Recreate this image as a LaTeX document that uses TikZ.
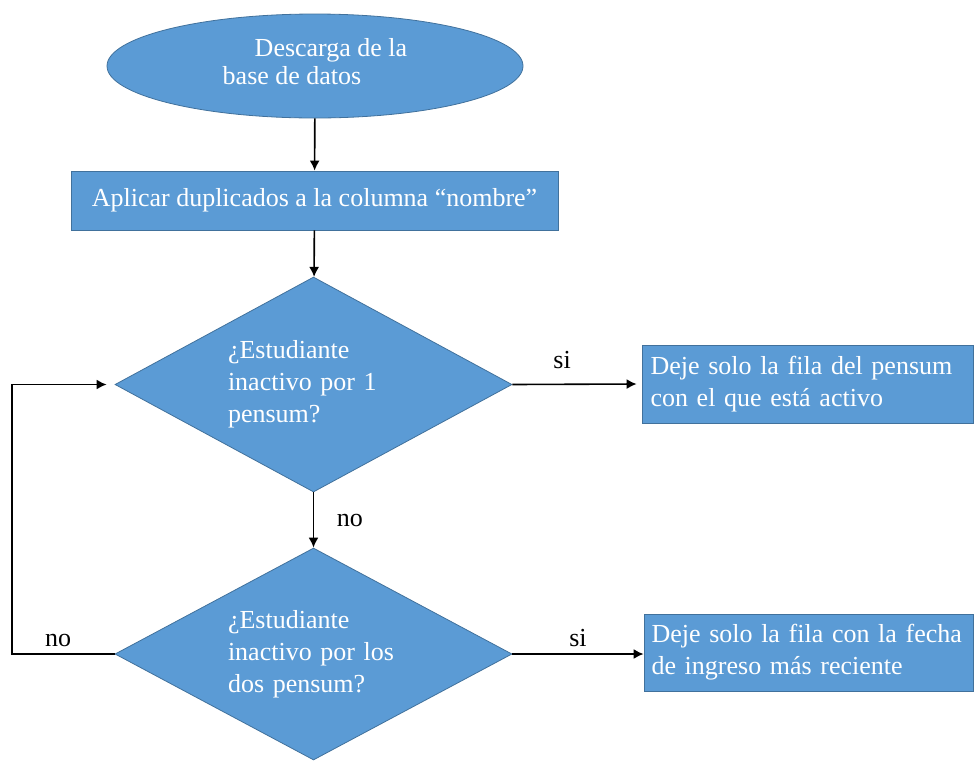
\documentclass[tikz,border=0pt]{standalone}
\usepackage{fontspec}
\setmainfont{Liberation Serif}
\usetikzlibrary{shapes.geometric, arrows.meta}
\definecolor{boxblue}{RGB}{91,155,213}
\definecolor{edgeblue}{RGB}{65,113,156}

\begin{document}
\begin{tikzpicture}[x=0.5pt, y=-0.5pt,
  every node/.style={font=\fontsize{13}{16}\selectfont},
  block/.style={draw=edgeblue, fill=boxblue, text=white, inner sep=0pt},
  every edge/.style={draw, thick}]
\useasboundingbox (0,0) rectangle (974,761);
\node[block, ellipse, minimum width=208pt, minimum height=52pt, align=left,
  font=\fontsize{13}{14}\selectfont] (S) at (315,66)
  {\hspace*{16pt}Descarga de la\\base de datos\strut};
\node[block, rectangle, minimum width=243.5pt, minimum height=29.5pt] (A) at (314.5,200.5)
  {Aplicar duplicados a la columna “nombre”};
\node[block, diamond, shape aspect=1.85, minimum width=198.5pt, minimum height=107.5pt,
  text width=85.5pt, align=left] (Q1) at (313.5,384.5)
  {¿Estudiante\\inactivo por 1\\pensum?};
\node[block, diamond, shape aspect=1.85, minimum width=198.5pt, minimum height=106pt,
  text width=85.5pt, align=left] (Q2) at (313.5,654)
  {¿Estudiante\\inactivo por los\\dos pensum?};
\node[block, rectangle, minimum width=165.5pt, minimum height=39pt, text width=157pt, align=left] (R1) at (807.5,384)
  {Deje solo la fila del pensum\\con el que está activo};
\node[block, rectangle, minimum width=164.5pt, minimum height=38.5pt, text width=157pt, align=left] (R2) at (808.5,652.5)
  {Deje solo la fila con la fecha\\de ingreso más reciente};
\coordinate (L) at (12,0);
\draw[->, thick, >={Latex[length=5pt,width=5pt]}] (S) -- (A);
\draw[->, thick, >={Latex[length=5pt,width=5pt]}] (A) -- (Q1);
\draw[->, thick, >={Latex[length=5pt,width=5pt]}] (Q1.east) -- node[pos=0.4, above=4pt] {si} ([xshift=-2.5pt]R1.west);
\draw[->, thick, >={Latex[length=5pt,width=5pt]}] (Q1) -- node[midway, right, xshift=8pt] {no} (Q2);
\draw[->, thick, >={Latex[length=5pt,width=5pt]}] (Q2.east) -- node[midway, above] {si} (Q2.east -| R2.west);
\draw[->, thick, >={Latex[length=5pt,width=5pt]}] (Q2.west) -- node[pos=0.55, above] {no} (Q2.west -| L)
  |- ([xshift=-4pt]Q1.west);
\end{tikzpicture}
\end{document}
